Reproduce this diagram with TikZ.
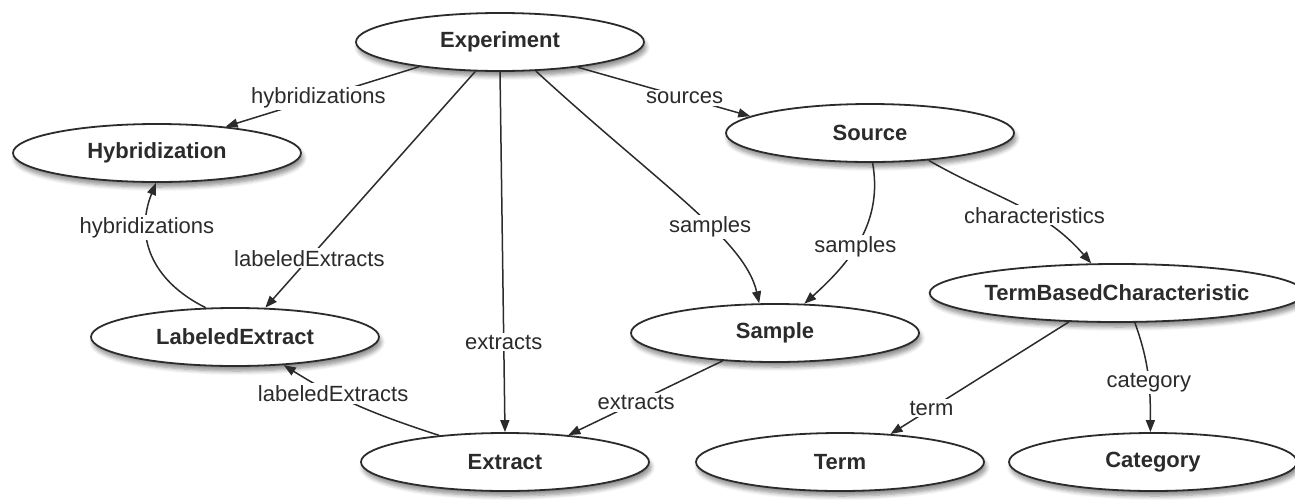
\documentclass[tikz,border=0pt]{standalone}
\usepackage{fontspec}
\setmainfont{Liberation Sans}
\usetikzlibrary{shapes.geometric,arrows.meta,shadows.blur}
\definecolor{ink}{HTML}{2B2B2B}
\tikzset{
  cls/.style={ellipse, draw=ink, line width=0.9pt, fill=white,
    minimum width=144pt, minimum height=29pt, inner sep=0pt,
    font=\fontsize{11}{13}\selectfont\bfseries, text=ink,
    blur shadow={shadow xshift=1pt, shadow yshift=-2.5pt, shadow blur steps=6, shadow opacity=45}},
  rel/.style={draw=ink, line width=0.75pt, -{Triangle[length=6pt,width=4.5pt]}},
  lbl/.style={fill=white, inner sep=1pt, font=\fontsize{11}{13}\selectfont, text=ink}
}
\begin{document}
\begin{tikzpicture}[x=0.5pt,y=-0.5pt]
\useasboundingbox (0,0) rectangle (1295,499);
\node[cls] (exp) at (500,42) {Experiment};
\node[cls] (hyb) at (157,153) {Hybridization};
\node[cls] (src) at (870,133) {Source};
\node[cls] (le)  at (235,337) {LabeledExtract};
\node[cls] (smp) at (775,333) {Sample};
\node[cls,minimum width=177pt] (tbc) at (1117,293) {TermBasedCharacteristic};
\node[cls] (ext) at (505,462) {Extract};
\node[cls] (term) at (840,462) {Term};
\node[cls] (cat) at (1153,462) {Category};

\draw[rel] (exp.197) -- node[lbl,pos=0.52]{hybridizations} (hyb.21);
\draw[rel] (le.135) .. controls (150,280) and (135,235) .. node[lbl,pos=0.7]{hybridizations} (hyb.268);
\draw[rel] (exp.230) -- node[lbl,pos=0.79]{labeledExtracts} (le.44);
\draw[rel] (exp.270) -- node[lbl,pos=0.75]{extracts} (ext.90);
\draw[rel] (exp.321) .. controls (660,185) and (745,240) .. node[lbl,pos=0.6]{samples} (smp.118);
\draw[rel] (exp.342) -- node[lbl,pos=0.62]{sources} (src.172);
\draw[rel] (src.275) to[out=-80,in=42] node[lbl,pos=0.55]{samples} (smp.45);
\draw[rel] (src.335) to[out=-30,in=131] node[lbl,pos=0.62]{characteristics} (tbc.131);
\draw[rel] (smp.208) -- node[lbl,pos=0.56]{extracts} (ext.23);
\draw[rel] (ext.158) to[out=162,in=-32] node[lbl,pos=0.68]{labeledExtracts} (le.330);
\draw[rel] (tbc.211) -- node[lbl,pos=0.77]{term} (term.29);
\draw[rel] (tbc.301) to[out=-70,in=90] node[lbl,pos=0.56]{category} (cat.95);
\end{tikzpicture}
\end{document}
